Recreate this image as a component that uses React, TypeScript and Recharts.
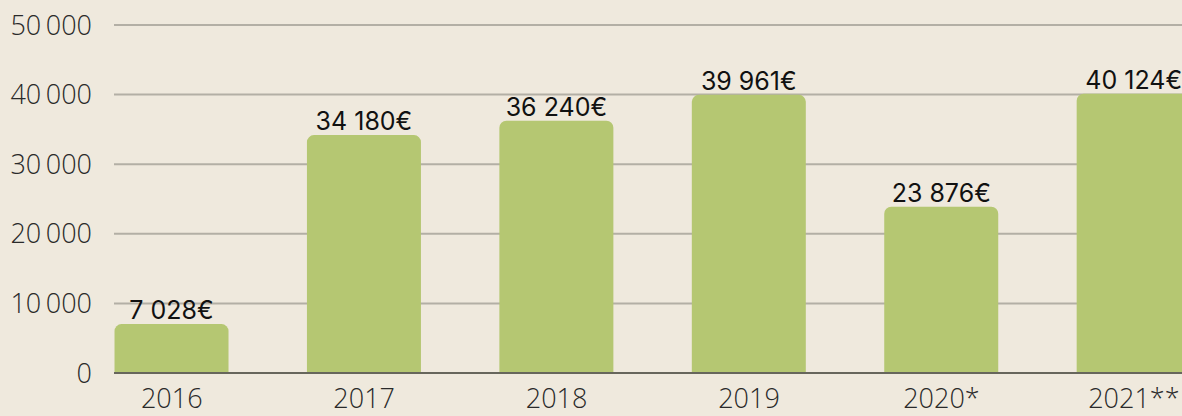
import React from 'react';
import { BarChart, Bar, XAxis, YAxis, CartesianGrid, LabelList } from 'recharts';

const years = ['2016', '2017', '2018', '2019', '2020*', '2021**'];
const amounts = [7028, 34180, 36240, 39961, 23876, 40124];
const yTicks = [0, 10000, 20000, 30000, 40000, 50000];

const data = years.map((year, i) => ({ idx: i, year, amount: amounts[i] }));

const groupDigits = (v: number, sep: string) =>
  String(v).replace(/\B(?=(\d{3})+(?!\d))/g, sep);

const App: React.FC = () => {
  return (
    <div style={{ position: 'absolute', left: 0, top: 0, width: 1182, height: 416, background: '#efe9dd' }}>
      <BarChart
        width={1182}
        height={416}
        data={data}
        margin={{ top: 25, right: 0, left: 0, bottom: 0 }}
      >
        <CartesianGrid vertical={false} stroke="#b3afa5" strokeWidth={2} />
        <XAxis
          dataKey="idx"
          type="number"
          domain={[-0.3, 5.25]}
          allowDataOverflow
          ticks={years.map((_, i) => i)}
          tickFormatter={(v: number) => years[v]}
          interval={0}
          height={43}
          tickLine={false}
          tickSize={0}
          tickMargin={16}
          axisLine={{ stroke: '#67665c', strokeWidth: 2 }}
          tick={{ fill: '#2a2a2a', fontSize: 27, fontFamily: 'Open Sans', fontWeight: 300 }}
        />
        <YAxis
          domain={[0, 50000]}
          ticks={yTicks}
          width={114}
          axisLine={false}
          tickLine={false}
          tickSize={0}
          tickMargin={22}
          tickFormatter={(v: number) => groupDigits(v, '\u2009')}
          tick={{ fill: '#2a2a2a', fontSize: 27, fontFamily: 'Open Sans', fontWeight: 300 }}
        />
        <Bar dataKey="amount" fill="#b5c772" barSize={114} radius={[7, 7, 0, 0]} isAnimationActive={false}>
          <LabelList
            dataKey="amount"
            position="top"
            offset={5}
            formatter={(v: number) => `${groupDigits(v, ' ')}€`}
            style={{ fill: '#111', fontSize: 25, fontFamily: 'Inter', fontWeight: 400 }}
          />
        </Bar>
      </BarChart>
    </div>
  );
};

export default App;
